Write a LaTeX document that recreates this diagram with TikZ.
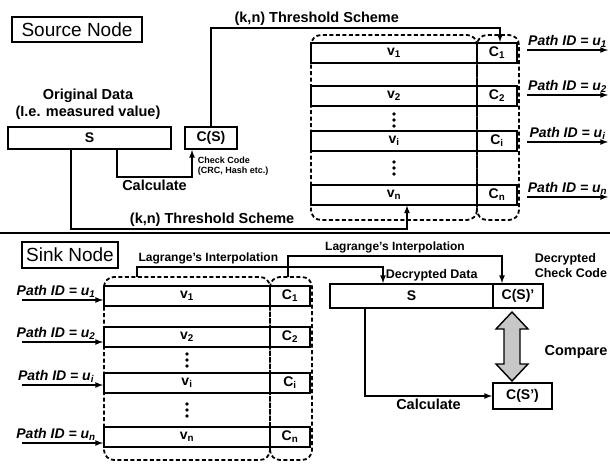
\documentclass[tikz,border=0pt]{standalone}
\usepackage{fontspec}
\setmainfont{Liberation Sans}

\tikzset{
	titlebox/.style={draw, line width=1.4pt, inner sep=0pt, font=\fontsize{19}{22}\selectfont},
	databox/.style={draw, line width=2pt, minimum height=22, inner sep=0pt, font=\fontsize{14}{16}\bfseries\selectfont},
	vcell/.style={draw, line width=2pt, minimum width=166, minimum height=20, inner sep=0pt, font=\fontsize{14}{16}\bfseries\selectfont},
	ccell/.style={vcell, minimum width=40},
	groupbox/.style={line width=1.8pt, dash pattern=on 4pt off 2.5pt, rounded corners=10pt},
	lbl/.style={inner sep=2pt, font=\fontsize{14.5}{17}\bfseries\selectfont},
	lbltwo/.style={inner sep=2pt, font=\fontsize{12.5}{14.5}\bfseries\selectfont},
	lglbl/.style={inner sep=2pt, font=\fontsize{12}{14}\bfseries\selectfont},
	smalllbl/.style={inner sep=0pt, align=left, font=\fontsize{9}{9.5}\bfseries\selectfont},
	pathlbl/.style={inner sep=2pt, font=\fontsize{14}{16}\bfseries\itshape\selectfont}
}

\begin{document}
\begin{tikzpicture}[x=1pt, y=-1pt, >=latex, line width=1.6pt]
			\useasboundingbox (0,0) rectangle (610,463);

			% source node
			\node [titlebox, minimum width=130, minimum height=25] (source) at (77,29.5) {Source Node};
			\node [lbl, align=center] (orig) at (88,104) {Original Data\\(I.e. measured value)};
			\node [databox, minimum width=163] (s) at (89.5,138) {S};
			\node [databox, minimum width=52] (cs) at (211,138) {C(S)};
			\node [smalllbl, anchor=west] (chk) at (197,166) {Check Code\\(CRC, Hash etc.)};

			\node [vcell] (v1) at (394,53) {v\textsubscript{1}};
			\node [ccell] (c1) at (497,53) {C\textsubscript{1}};
			\node [vcell] (v2) at (394,95.5) {v\textsubscript{2}};
			\node [ccell] (c2) at (497,95.5) {C\textsubscript{2}};
			\node [vcell] (vi) at (394,141) {v\textsubscript{i}};
			\node [ccell] (ci) at (497,141) {C\textsubscript{i}};
			\node [vcell] (vn) at (394,194.5) {v\textsubscript{n}};
			\node [ccell] (cn) at (497,194.5) {C\textsubscript{n}};
			\fill (394,114) circle (1.8) (394,120) circle (1.8) (394,126) circle (1.8);
			\fill (394,162) circle (1.8) (394,168) circle (1.8) (394,174) circle (1.8);
			\draw [groupbox] (311,35) rectangle (477,220);
			\draw [groupbox] (477,35) rectangle (519,220);

			\coordinate (kt) at (500,28);
			\draw [->] (cs.north) |- (kt) node [pos=0.683, above, lbl] {(k,n) Threshold Scheme} -- (kt |- c1.north);
			\coordinate (ca1) at (117,177);
			\coordinate (ca2) at (192,177);
			\draw [->] (s.south -| ca1) -- (ca1) -- (ca2) node [midway, below, lbl] {Calculate} -- (ca2 |- cs.south);
			\coordinate (kn1) at (71,229);
			\coordinate (kn2) at (407,229);
			\draw [->] (s.south -| kn1) -- (kn1) -- (kn2) node [pos=0.42, above, lbl] {(k,n) Threshold Scheme} -- (kn2 |- vn.south);

			\coordinate (out1) at (527,50);
			\coordinate (out2) at (527,95);
			\coordinate (outi) at (527,142);
			\coordinate (outn) at (527,197);
			\coordinate (end1) at (608,50);
			\coordinate (end2) at (608,95);
			\coordinate (endi) at (608,142);
			\coordinate (endn) at (608,197);
			\draw [->] (out1) -- (end1) node [midway, above, pathlbl] {Path ID = u\textsubscript{1}};
			\draw [->] (out2) -- (end2) node [midway, above, pathlbl] {Path ID = u\textsubscript{2}};
			\draw [->] (outi) -- (endi) node [midway, above, pathlbl] {Path ID = u\textsubscript{i}};
			\draw [->] (outn) -- (endn) node [midway, above, pathlbl] {Path ID = u\textsubscript{n}};

			\draw (0,233) -- (610,233);

			% sink node
			\node [titlebox, minimum width=96, minimum height=26] (sink) at (70,255) {Sink Node};

			\node [vcell] (sv1) at (187,295.5) {v\textsubscript{1}};
			\node [ccell] (sc1) at (290,295.5) {C\textsubscript{1}};
			\node [vcell] (sv2) at (187,337) {v\textsubscript{2}};
			\node [ccell] (sc2) at (290,337) {C\textsubscript{2}};
			\node [vcell] (svi) at (187,383) {v\textsubscript{i}};
			\node [ccell] (sci) at (290,383) {C\textsubscript{i}};
			\node [vcell] (svn) at (187,436.5) {v\textsubscript{n}};
			\node [ccell] (scn) at (290,436.5) {C\textsubscript{n}};
			\fill (187,354) circle (1.8) (187,360) circle (1.8) (187,366) circle (1.8);
			\fill (187,404) circle (1.8) (187,410) circle (1.8) (187,416) circle (1.8);
			\draw [groupbox] (104,277) rectangle (270,460);
			\draw [groupbox] (270,277) rectangle (312,460);

			\coordinate (in1) at (22,300);
			\coordinate (in2) at (22,342);
			\coordinate (ini) at (22,385);
			\coordinate (inn) at (22,443);
			\draw [->] (in1) -- (in1 -| sv1.west) node [pos=0.42, above, pathlbl] {Path ID = u\textsubscript{1}};
			\draw [->] (in2) -- (in2 -| sv2.west) node [pos=0.42, above, pathlbl] {Path ID = u\textsubscript{2}};
			\draw [->] (ini) -- (ini -| svi.west) node [pos=0.42, above, pathlbl] {Path ID = u\textsubscript{i}};
			\draw [->] (inn) -- (inn -| svn.west) node [pos=0.42, above, pathlbl] {Path ID = u\textsubscript{n}};

			\node [databox, minimum width=163, minimum height=24] (ds) at (411.5,296) {S};
			\node [databox, minimum width=50, minimum height=24] (dc) at (518,296) {C(S)'};
			\node [databox, minimum width=59, minimum height=26] (nc) at (522.5,396) {C(S')};
			\node [lbltwo, align=left, anchor=west] (dcc) at (532,265.5) {Decrypted\\Check Code};

			\coordinate (gv) at (137,277);
			\coordinate (la) at (137,267);
			\coordinate (lb) at (383,267);
			\draw [->] (gv) -- (la) -- (lb) node [pos=0.29, above, lglbl] {Lagrange's Interpolation} -- (lb |- ds.north) node [midway, right, lbltwo] {Decrypted Data};
			\coordinate (gc) at (288,277);
			\coordinate (lc) at (288,256);
			\coordinate (ld) at (502,256);
			\draw [->] (gc) -- (lc) -- (ld) node [midway, above, lglbl] {Lagrange's Interpolation} -- (ld |- dc.north);

			\draw [fill=black!22, line width=1.4pt] (512,312) -- (528,329) -- (520,329) -- (520,364) -- (528,364) -- (512,381) -- (496,364) -- (504,364) -- (504,329) -- (496,329) -- cycle;
			\node [lbl] (cmp) at (576,352) {Compare};

			\coordinate (cc) at (365,396);
			\draw [->] (ds.south -| cc) -- (cc) -- (cc -| nc.west) node [midway, below, lbl] {Calculate};
		\end{tikzpicture}
\end{document}
